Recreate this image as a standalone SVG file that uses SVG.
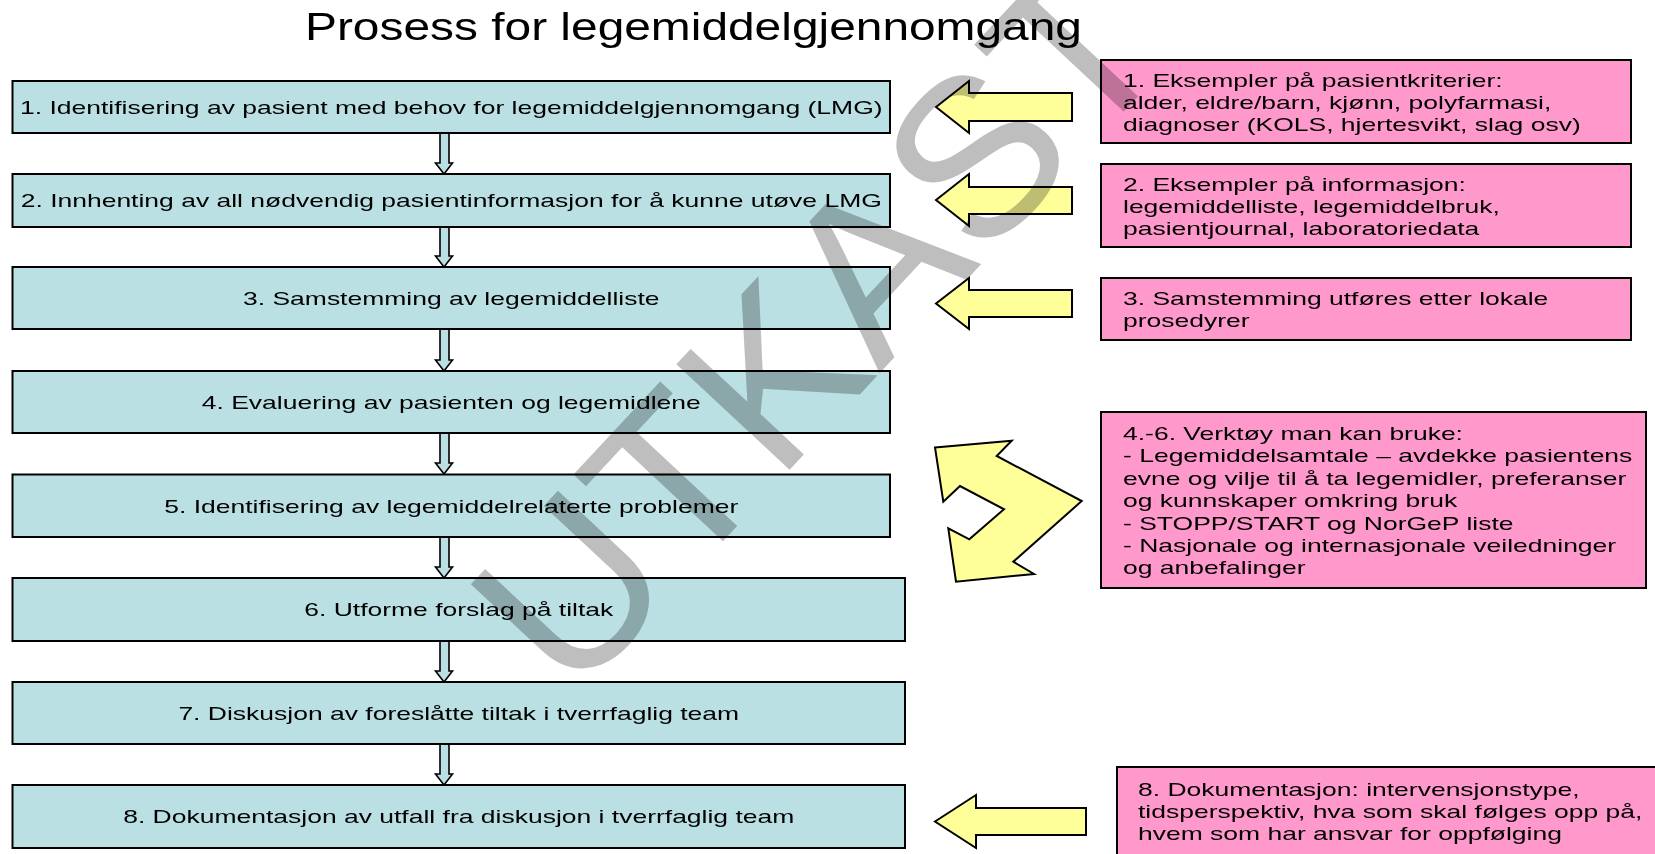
<svg xmlns="http://www.w3.org/2000/svg" width="1655" height="854" viewBox="0 0 1655 854">
<style>
.step{fill:#bbe0e3;stroke:#000;stroke-width:2}
.note{fill:#ff99cc;stroke:#000;stroke-width:2}
.ya{fill:#ffff99;stroke:#000;stroke-width:2;stroke-linejoin:miter}
.con{fill:#bbe0e3;stroke:#000;stroke-width:1.6}
.t{font-family:"Liberation Sans",Arial,sans-serif;font-size:18.6px;fill:#000}
.title{font-family:"Liberation Sans",Arial,sans-serif;font-size:38px;fill:#000}
.wm{font-family:"Liberation Sans",Arial,sans-serif;font-size:225px;fill:#bebebe;mix-blend-mode:multiply}
</style>
<rect width="1655" height="854" fill="#fff"/>
<text class="title" x="305" y="40" textLength="777" lengthAdjust="spacingAndGlyphs">Prosess for legemiddelgjennomgang</text>

<g id="connectors">
<polygon class="con" points="440,133 449,133 449,163 452.5,163 444,174 435.5,163 440,163"/>
<polygon class="con" points="440,227 449,227 449,256 452.5,256 444,267 435.5,256 440,256"/>
<polygon class="con" points="440,329 449,329 449,360 452.5,360 444,371 435.5,360 440,360"/>
<polygon class="con" points="440,433 449,433 449,463 452.5,463 444,474 435.5,463 440,463"/>
<polygon class="con" points="440,537 449,537 449,567 452.5,567 444,578 435.5,567 440,567"/>
<polygon class="con" points="440,641 449,641 449,671 452.5,671 444,682 435.5,671 440,671"/>
<polygon class="con" points="440,744 449,744 449,774 452.5,774 444,785 435.5,774 440,774"/>
<polygon class="ya" points="936,107 969,81 969,93 1072,93 1072,121 969,121 969,133"/>
<polygon class="ya" points="936,200 969,174 969,187 1072,187 1072,214 969,214 969,226"/>
<polygon class="ya" points="936,303.5 969,278 969,290 1072,290 1072,317 969,317 969,329"/>
<polygon class="ya" points="935,447.5 1011.7,440.7 996.7,456 1081.7,501 1013.3,561.7 1034,574 956,581.7 948.3,528.3 969.3,539.3 1004,509.3 960,486 943.3,501.7"/>
<polygon class="ya" points="935,821.5 976,795 976,808 1086,808 1086,835 976,835 976,848"/>
</g>

<g id="step1"><rect class="step" x="12.5" y="81" width="877.5" height="52"/>
<text class="t" text-anchor="middle" transform="matrix(1.425 0 0 1 451.25 113.5)">1. Identifisering av pasient med behov for legemiddelgjennomgang (LMG)</text></g>
<g id="step2"><rect class="step" x="12.5" y="174" width="877.5" height="53"/>
<text class="t" text-anchor="middle" transform="matrix(1.425 0 0 1 451.25 207)">2. Innhenting av all nødvendig pasientinformasjon for å kunne utøve LMG</text></g>
<g id="step3"><rect class="step" x="12.5" y="267" width="877.5" height="62"/>
<text class="t" text-anchor="middle" transform="matrix(1.425 0 0 1 451.25 304.5)">3. Samstemming av legemiddelliste</text></g>
<g id="step4"><rect class="step" x="12.5" y="371" width="877.5" height="62"/>
<text class="t" text-anchor="middle" transform="matrix(1.425 0 0 1 451.25 408.5)">4. Evaluering av pasienten og legemidlene</text></g>
<g id="step5"><rect class="step" x="12.5" y="474.5" width="877.5" height="62.5"/>
<text class="t" text-anchor="middle" transform="matrix(1.425 0 0 1 451.25 512.5)">5. Identifisering av legemiddelrelaterte problemer</text></g>
<g id="step6"><rect class="step" x="12.5" y="578" width="892.5" height="63"/>
<text class="t" text-anchor="middle" transform="matrix(1.425 0 0 1 458.75 616)">6. Utforme forslag på tiltak</text></g>
<g id="step7"><rect class="step" x="12.5" y="682" width="892.5" height="62"/>
<text class="t" text-anchor="middle" transform="matrix(1.425 0 0 1 458.75 719.5)">7. Diskusjon av foreslåtte tiltak i tverrfaglig team</text></g>
<g id="step8"><rect class="step" x="12.5" y="785" width="892.5" height="63"/>
<text class="t" text-anchor="middle" transform="matrix(1.425 0 0 1 458.75 823)">8. Dokumentasjon av utfall fra diskusjon i tverrfaglig team</text></g>

<g id="note1"><rect class="note" x="1101" y="60" width="530" height="83"/>
<text class="t" transform="matrix(1.425 0 0 1 1123 86.5)"><tspan x="0" y="0">1. Eksempler på pasientkriterier:</tspan><tspan x="0" y="22.5">alder, eldre/barn, kjønn, polyfarmasi,</tspan><tspan x="0" y="45">diagnoser (KOLS, hjertesvikt, slag osv)</tspan></text></g>
<g id="note2"><rect class="note" x="1101" y="164" width="530" height="83"/>
<text class="t" transform="matrix(1.425 0 0 1 1123 191)"><tspan x="0" y="0">2. Eksempler på informasjon:</tspan><tspan x="0" y="22">legemiddelliste, legemiddelbruk,</tspan><tspan x="0" y="44">pasientjournal, laboratoriedata</tspan></text></g>
<g id="note3"><rect class="note" x="1101" y="278" width="530" height="62"/>
<text class="t" transform="matrix(1.425 0 0 1 1123 305)"><tspan x="0" y="0">3. Samstemming utføres etter lokale</tspan><tspan x="0" y="22.5">prosedyrer</tspan></text></g>
<g id="note4"><rect class="note" x="1101" y="412" width="545" height="176"/>
<text class="t" transform="matrix(1.425 0 0 1 1123 440)"><tspan x="0" y="0">4.-6. Verktøy man kan bruke:</tspan><tspan x="0" y="22.4">- Legemiddelsamtale – avdekke pasientens</tspan><tspan x="0" y="44.8">evne og vilje til å ta legemidler, preferanser</tspan><tspan x="0" y="67.2">og kunnskaper omkring bruk</tspan><tspan x="0" y="89.6">- STOPP/START og NorGeP liste</tspan><tspan x="0" y="112">- Nasjonale og internasjonale veiledninger</tspan><tspan x="0" y="134.4">og anbefalinger</tspan></text></g>
<g id="note8"><rect class="note" x="1117" y="767" width="560" height="110"/>
<text class="t" transform="matrix(1.425 0 0 1 1138 796)"><tspan x="0" y="0">8. Dokumentasjon: intervensjonstype,</tspan><tspan x="0" y="22">tidsperspektiv, hva som skal følges opp på,</tspan><tspan x="0" y="44">hvem som har ansvar for oppfølging</tspan></text></g>

<g id="watermark"><text class="wm" text-anchor="middle" transform="translate(875 378) rotate(-47)">UTKAST</text></g>
</svg>
